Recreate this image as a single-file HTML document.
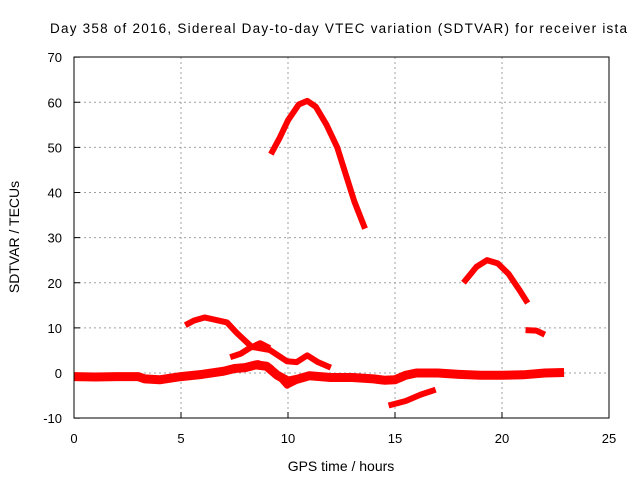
<!DOCTYPE html>
<html><head><meta charset="utf-8"><style>
body{margin:0;background:#fff}
svg{display:block;font-family:"Liberation Sans",sans-serif}
</style></head><body>
<svg id="chart" width="640" height="480">
<text x="50" y="33" font-size="13.5" textLength="577" lengthAdjust="spacing">Day 358 of 2016, Sidereal Day-to-day VTEC variation (SDTVAR) for receiver ista</text>
<text x="341" y="471" text-anchor="middle" font-size="14">GPS time / hours</text>
<text transform="translate(19,237) rotate(-90)" text-anchor="middle" font-size="14">SDTVAR / TECUs</text>
<g id="grid"></g><g id="series"></g>
<rect x="74" y="57" width="535" height="361" fill="none" stroke="#000"/>
</svg>
<script>
const xTicks=[0,5,10,15,20,25];
const yTicks=[-10,0,10,20,30,40,50,60,70];
const segA=[[0,-0.8],[1,-0.9],[2,-0.8],[3,-0.8],[3.3,-1.3],[4,-1.5],[5,-0.8],[6,-0.3],[7,0.4],[7.5,1],[8,1.2],[8.5,1.8],[9,1.5],[9.5,-0.5],[10,-1.8],[10.5,-1.3],[11,-0.6],[11.5,-0.8],[12,-1],[13,-1],[14,-1.3],[14.5,-1.6],[15,-1.5],[15.5,-0.5],[16,0],[17,0],[18,-0.3],[19,-0.5],[20,-0.5],[21,-0.4],[22,0],[22.9,0.1]];
const segA2=[[7,0.2],[8,1.5],[8.6,2.2],[9.2,1.2],[9.95,-2.8],[10.5,-1.5]];
const segB=[[5.2,10.6],[5.6,11.6],[6.1,12.3],[6.6,11.8],[7.15,11.2],[7.6,8.9],[8.3,5.8],[9.15,5.1],[9.95,2.6],[10.4,2.4],[10.9,3.9],[11.4,2.4],[12,1.2]];
const segC=[[7.3,3.5],[7.8,4.3],[8.2,5.5],[8.7,6.6],[9.15,5.5]];
const segD=[[14.7,-7.2],[15.5,-6.2],[16.2,-4.8],[16.9,-3.7]];
const segE=[[9.2,48.5],[9.6,52],[10,56],[10.5,59.5],[10.9,60.3],[11.3,59],[11.8,55],[12.3,50],[12.7,44],[13.1,38],[13.6,32]];
const segF=[[18.2,20],[18.8,23.5],[19.3,25],[19.8,24.3],[20.3,22],[20.8,18.5],[21.2,15.5]];
const segG=[[21.1,9.5],[21.6,9.4],[22,8.5]];
const X=t=>74+t*21.4, Y=v=>373-v*4.5125;
const NS="http://www.w3.org/2000/svg";
const grid=document.getElementById('grid'), ser=document.getElementById('series');
function mk(tag,at,par){const e=document.createElementNS(NS,tag);for(const k in at)e.setAttribute(k,at[k]);par.appendChild(e);return e;}
xTicks.forEach(t=>{
 if(t>0&&t<25){const l=mk('line',{x1:X(t),x2:X(t),y1:57,y2:418,stroke:'#a0a0a0','stroke-dasharray':'2,3'},grid);
 
 }
 const tx=mk('text',{x:X(t),y:443,'text-anchor':'middle','font-size':13},grid);tx.textContent=t;
 
 
 mk('line',{x1:X(t),x2:X(t),y1:418,y2:412,stroke:'#000'},grid);
});
yTicks.forEach(v=>{
 if(v>-10&&v<70){const l=mk('line',{x1:74,x2:609,y1:Y(v),y2:Y(v),stroke:'#a0a0a0','stroke-dasharray':'2,3'},grid);
 
 }
 const tx=mk('text',{x:62,y:Y(v)+5,'text-anchor':'end','font-size':13},grid);tx.textContent=v;
 
 
 mk('line',{x1:74,x2:80,y1:Y(v),y2:Y(v),stroke:'#000'},grid);
});
[segA,segA2,segB,segC,segD,segE,segF,segG].forEach((s,i)=>{
 const p=mk('polyline',{points:s.map(d=>X(d[0])+','+Y(d[1])).join(' '),fill:'none',stroke:'#ff0000','stroke-width':i==0?9:6,'stroke-linejoin':'round'},ser);
 
 
});
</script>
</body></html>
